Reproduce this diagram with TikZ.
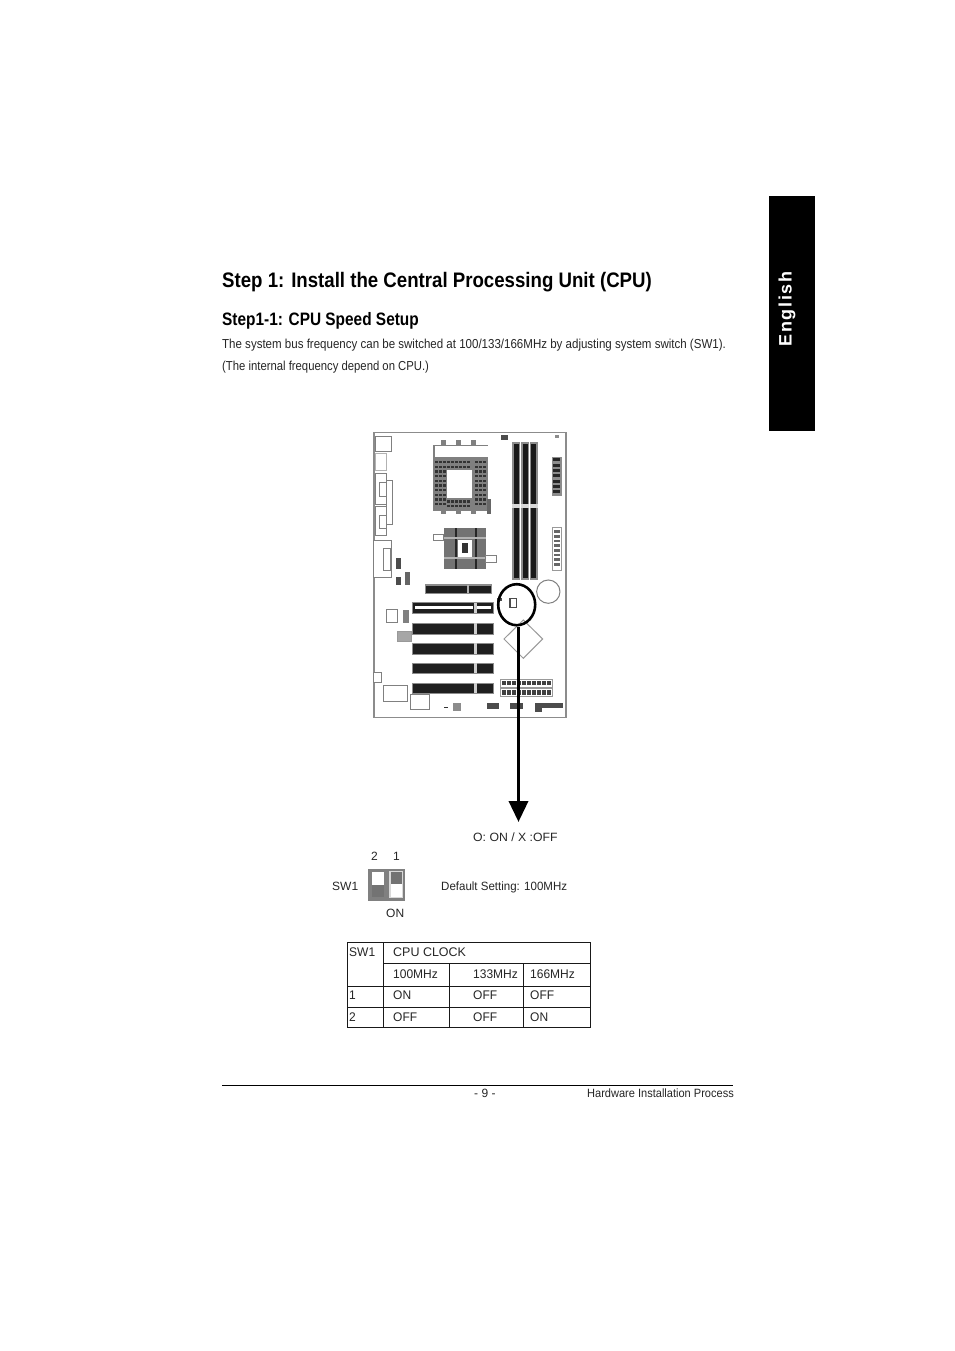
\documentclass[tikz,border=0pt]{standalone}
\usepackage{fontspec}
\usetikzlibrary{arrows.meta,shapes.geometric}
\setmainfont{Liberation Sans}
\newcommand{\pagefont}[1]{\fontsize{#1}{#1}\selectfont}
\begin{document}
\begin{tikzpicture}[x=1pt, y=-1pt,
  txt/.style = {anchor=base west, inner sep=0pt, text=black!85, font=\pagefont{12}},
  narrow/.style = {transform shape, xscale=#1},
  head/.style = {anchor=base west, inner sep=0pt, font=\bfseries\pagefont{21}},
  cell/.style = {txt, font=\pagefont{12.5}, narrow=0.96},
  grid/.style = {line width=0.8pt, black!90},
  slot/.style = {fill=black!88, draw=black!45, line width=1.2pt},
  part/.style = {draw=black!50, line width=1pt, fill=white},
  chip/.style = {fill=black!55, draw=black!40, line width=0.8pt}]
  \useasboundingbox (0,0) rectangle (954,1351);
  \fill[white] (0,0) rectangle (954,1351);
  % side tab
  \fill[black] (769,196) rectangle (815,431);
  \node[rotate=90, text=white, font=\bfseries\pagefont{18}] (lang) at (787,309) {E\hspace{1.7pt}n\hspace{1.7pt}g\hspace{1.7pt}l\hspace{1.7pt}i\hspace{1.7pt}s\hspace{1.7pt}h};
  % headings
  \node[head, narrow=0.888] (title) at (222,287) {Step 1: Install the Central Processing Unit (CPU)};
  \node[head, narrow=0.856, font=\bfseries\pagefont{18}] (subtitle) at (222,325) {Step1-1: CPU Speed Setup};
  \node[txt, narrow=0.887, font=\pagefont{13}] (para1) at (222,348) {The system bus frequency can be switched at 100/133/166MHz by adjusting system switch (SW1).};
  \node[txt, narrow=0.87, font=\pagefont{13}] (para2) at (222,370) {(The internal frequency depend on CPU.)};
  % board, in zoomed coordinates
  \begin{scope}[shift={(360,425)}, x=0.3333pt, y=-0.3333pt]
    \draw[draw=black!45, line width=1.3pt] (42,22) rectangle (618,878);
    \draw[part] (45,35) rectangle (95,78);
    \draw[part, draw=black!30] (45,85) rectangle (80,138);
    \draw[part] (45,145) rectangle (78,240);
    \draw[part] (78,168) rectangle (97,298);
    \draw[part] (45,245) rectangle (78,332);
    \draw[part] (58,172) rectangle (78,215);
    \draw[part] (58,272) rectangle (78,312);
    \draw[part] (40,348) rectangle (95,458);
    \draw[part] (70,372) rectangle (90,438);
    % socket
    \fill[black!50] (218,60) rectangle (385,258);
    \fill[white] (225,62) rectangle (385,95);
    \foreach \px in {226,238,250,346,358,370} \foreach \py in {108,122,136,150,164,178,192,206,220,234}
      \fill[black!80] (\px,\py) rectangle +(7,7);
    \foreach \px in {262,274,286,298,310,322} \foreach \py in {108,122,226,240}
      \fill[black!80] (\px,\py) rectangle +(7,7);
    \fill[white] (262,135) rectangle (335,218);
    \foreach \sx in {250,295,340} {
      \fill[black!50] (\sx-8,45) rectangle (\sx+8,60);
      \fill[black!50] (\sx-8,258) rectangle (\sx+8,268);
    }
    \fill[black!60] (380,222) rectangle (392,268);
    % chipset
    \fill[black!55] (252,308) rectangle (378,432);
    \foreach \px in {285,345} \fill[black!85] (\px,308) rectangle +(6,124);
    \foreach \py in {335,395} \fill[black!30] (252,\py) rectangle +(126,6);
    \fill[white] (295,345) rectangle (335,395);
    \fill[black!80] (305,355) rectangle (325,385);
    \draw[part] (220,330) rectangle (252,348);
    \draw[part] (378,392) rectangle (410,412);
    % memory
    \foreach \mx in {460,487,512} {
      \fill[black!45] (\mx-3,52) rectangle (\mx+21,465);
      \fill[black!90] (\mx+1,58) rectangle (\mx+17,460);
      \fill[black!15] (\mx-3,236) rectangle (\mx+21,248);
    }
    \fill[black!45] (575,95) rectangle (605,212);
    \foreach \py in {100,116,132,148,164,180,196} \fill[black!85] (578,\py) rectangle (600,\py+9);
    \draw[chip, fill=white] (578,308) rectangle (605,435);
    \foreach \py in {316,330,344,358,372,386,400,414} \fill[black!60] (583,\py) rectangle (600,\py+8);
    \fill[black!70] (423,30) rectangle (445,45);
    \fill[black!45] (584,30) rectangle (596,40);
    \draw[draw=black!50, line width=1pt] (565,500) circle (35);
    % small parts left
    \fill[black!70] (108,400) rectangle (124,432);
    \fill[black!70] (108,455) rectangle (124,480);
    \fill[black!60] (135,440) rectangle (150,480);
    \draw[part] (80,553) rectangle (112,592);
    \fill[black!50] (130,555) rectangle (148,595);
    \draw[chip, fill=black!35] (112,620) rectangle (155,648);
    \draw[part] (40,742) rectangle (65,772);
    \draw[part] (70,782) rectangle (142,830);
    \draw[part] (152,810) rectangle (208,855);
    % slots
    \draw[slot] (197,480) rectangle (395,505);
    \fill[black!30] (322,480) rectangle (328,505);
    \foreach \sy/\sh in {533/32, 595/33, 655/33, 715/30, 775/30} {
      \draw[slot] (158,\sy) rectangle (400,\sy+\sh);
      \fill[black!20] (342,\sy) rectangle (350,\sy+\sh);
    }
    \fill[white] (166,543) rectangle (340,553);
    \fill[white] (352,543) rectangle (394,553);
    % lower right
    \foreach \py in {762,790} {
      \draw[chip, fill=white] (420,\py) rectangle (578,\py+24);
      \foreach \px in {425,440,...,565} \fill[black!75] (\px,\py+5) rectangle +(14,14);
    }
    \fill[black!80] (252,845) rectangle (265,850);
    \fill[black!45] (280,835) rectangle (302,858);
    \fill[black!70] (380,835) rectangle (418,852);
    \fill[black!70] (450,835) rectangle (490,852);
    \fill[black!70] (525,835) rectangle (610,850);
    \fill[black!70] (525,850) rectangle (545,860);
    \draw[draw=black!40, line width=1pt] (490,585) -- (548,642) -- (490,700) -- (432,642) -- cycle;
    \draw[part, draw=black!70, line width=1.2pt] (450,520) rectangle (470,548);
    \fill[black!70] (412,518) rectangle (425,528);
  \end{scope}
  % marker and arrow
  \node[draw, ellipse, line width=2.6pt, minimum width=37pt, minimum height=41pt, inner sep=0pt] (ring) at (516.7,604.7) {};
  \coordinate (tip) at (518.5,822);
  \draw[line width=3.6pt, -{Triangle[length=21pt,width=19pt]}] (ring.south -| tip) -- (tip);
  % switch
  \node[txt, narrow=1.02] (legend) at (473,841) {O: ON / X :OFF};
  \node[txt] (num2) at (371,860) {2};
  \node[txt] (num1) at (393,860) {1};
  \node[txt] (swname) at (332,890) {SW1};
  \fill[black!50] (368,869) rectangle (405,901);
  \fill[white] (372,872) rectangle (384,885);
  \fill[black!55] (372,885) rectangle (384,897);
  \fill[black!15] (389,871) rectangle (403,898);
  \fill[black!55] (391,872) rectangle (402,884);
  \fill[white] (391,884) rectangle (402,897);
  \node[txt] (swon) at (386,917) {ON};
  \node[txt, narrow=0.96] (default) at (441,890) {Default Setting: 100MHz};
  % table
  \draw[grid] (347.5,942.5) rectangle (590.5,1027.5);
  \draw[grid] (383.5,942.5) -- (383.5,1027.5);
  \draw[grid] (383.5,963.5) -- (590.5,963.5);
  \draw[grid] (347.5,986.5) -- (590.5,986.5);
  \draw[grid] (347.5,1007.5) -- (590.5,1007.5);
  \draw[grid] (449.5,963.5) -- (449.5,1027.5);
  \draw[grid] (523.5,963.5) -- (523.5,1027.5);
  \node[cell] (t00) at (349,956) {SW1};
  \node[cell, narrow=1.04] (t01) at (393,956) {CPU CLOCK};
  \node[cell] (t11) at (393,978) {100MHz};
  \node[cell] (t12) at (473,978) {133MHz};
  \node[cell] (t13) at (530,978) {166MHz};
  \node[cell] (t20) at (349,999) {1};
  \node[cell] (t21) at (393,999) {ON};
  \node[cell] (t22) at (473,999) {OFF};
  \node[cell] (t23) at (530,999) {OFF};
  \node[cell] (t30) at (349,1021) {2};
  \node[cell] (t31) at (393,1021) {OFF};
  \node[cell] (t32) at (473,1021) {OFF};
  \node[cell] (t33) at (530,1021) {ON};
  % footer
  \draw[line width=0.8pt] (222,1085.5) -- (733,1085.5);
  \node[txt] (pageno) at (474,1097) {- 9 -};
  \node[txt, narrow=0.92] (section) at (587,1097) {Hardware Installation Process};
\end{tikzpicture}
\end{document}
